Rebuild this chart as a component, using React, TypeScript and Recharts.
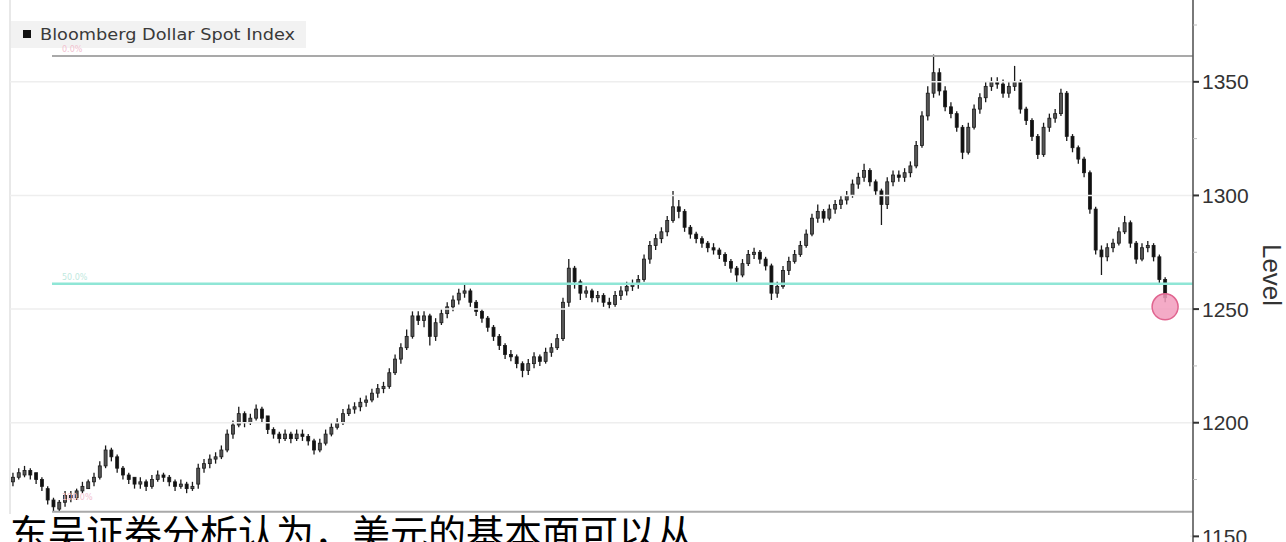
import React from 'react';
import { ComposedChart, Bar, XAxis, YAxis, CartesianGrid, ReferenceLine, ReferenceDot } from 'recharts';

const opens = [
  1174,1176,1177,1179,1178,1175,1171,1166,1162,1165,
  1168,1167,1170,1171,1174,1176,1181,1188,1185,1180,
  1177,1176,1173,1174,1172,1175,1177,1176,1174,1172,
  1173,1171,1173,1180,1182,1184,1185,1188,1195,1199,
  1204,1200,1202,1206,1203,1197,1195,1193,1195,1193,
  1195,1194,1192,1188,1191,1195,1198,1200,1204,1206,
  1207,1209,1210,1213,1215,1216,1222,1228,1233,1238,
  1247,1245,1247,1238,1244,1248,1251,1254,1257,1258,
  1253,1249,1246,1242,1238,1234,1230,1229,1226,1223,
  1226,1229,1227,1231,1233,1237,1253,1268,1262,1257,
  1258,1255,1256,1253,1252,1256,1258,1260,1261,1263,
  1272,1278,1281,1284,1289,1295,1293,1286,1283,1281,
  1279,1277,1276,1274,1271,1268,1265,1270,1274,1275,
  1272,1269,1257,1260,1267,1271,1274,1278,1283,1290,
  1293,1290,1294,1296,1298,1300,1305,1308,1311,1306,
  1302,1296,1306,1309,1308,1310,1313,1322,1335,1345,
  1354,1346,1339,1336,1330,1319,1330,1338,1343,1348,
  1350,1349,1345,1348,1350,1338,1333,1326,1318,1330,
  1334,1336,1345,1326,1321,1316,1310,1294,1276,1273,
  1277,1279,1284,1288,1279,1272,1277,1278,1273,1263,
];
const highs = [
  1178,1180,1181,1180,1178,1176,1172,1167,1166,1170,
  1170,1171,1174,1175,1178,1183,1190,1189,1186,1181,
  1178,1176,1176,1175,1177,1179,1178,1177,1175,1175,
  1174,1174,1182,1184,1186,1187,1190,1197,1201,1207,
  1205,1204,1208,1207,1203,1198,1196,1197,1196,1197,
  1197,1195,1193,1193,1197,1200,1202,1206,1208,1209,
  1211,1212,1215,1217,1218,1224,1230,1235,1241,1249,
  1249,1249,1248,1246,1250,1253,1256,1259,1261,1259,
  1254,1250,1247,1243,1239,1235,1232,1230,1227,1228,
  1231,1230,1233,1235,1239,1255,1272,1269,1263,1260,
  1259,1258,1257,1255,1258,1260,1262,1263,1265,1274,
  1280,1283,1286,1291,1302,1298,1294,1287,1284,1282,
  1280,1279,1277,1275,1272,1269,1272,1276,1277,1276,
  1273,1270,1262,1269,1273,1276,1280,1285,1292,1296,
  1294,1296,1298,1300,1302,1307,1310,1314,1312,1307,
  1303,1308,1311,1311,1312,1315,1324,1337,1348,1362,
  1356,1348,1341,1337,1331,1332,1340,1345,1350,1352,
  1352,1351,1350,1357,1351,1339,1334,1327,1332,1336,
  1338,1347,1346,1327,1322,1317,1311,1295,1278,1279,
  1281,1286,1291,1289,1280,1279,1280,1279,1274,1264,
];
const lows = [
  1172,1175,1176,1175,1173,1170,1164,1161,1161,1163,
  1165,1166,1169,1171,1172,1175,1180,1183,1178,1175,
  1173,1171,1171,1170,1171,1174,1174,1172,1170,1171,
  1169,1170,1171,1178,1180,1182,1184,1187,1193,1198,
  1198,1199,1201,1200,1195,1193,1191,1192,1191,1192,
  1192,1190,1186,1187,1190,1194,1197,1199,1203,1204,
  1205,1207,1209,1211,1213,1215,1221,1226,1232,1237,
  1243,1242,1234,1236,1243,1246,1249,1252,1255,1251,
  1247,1244,1240,1236,1232,1228,1227,1224,1220,1221,
  1224,1225,1226,1229,1232,1236,1251,1259,1254,1255,
  1253,1253,1251,1250,1251,1254,1256,1258,1259,1262,
  1270,1276,1279,1282,1288,1290,1284,1281,1279,1277,
  1275,1274,1272,1269,1266,1262,1264,1269,1272,1270,
  1267,1254,1255,1259,1265,1270,1273,1277,1282,1288,
  1288,1289,1292,1294,1296,1299,1303,1306,1304,1300,
  1287,1294,1304,1306,1306,1308,1312,1321,1333,1343,
  1344,1337,1334,1328,1316,1318,1329,1336,1341,1346,
  1347,1343,1343,1346,1336,1331,1324,1316,1317,1328,
  1332,1335,1324,1319,1314,1308,1292,1274,1265,1271,
  1275,1278,1283,1277,1270,1271,1275,1271,1261,1253,
];
const closes = [
  1176,1178,1179,1177,1175,1172,1166,1163,1165,1168,
  1167,1170,1172,1174,1176,1181,1188,1185,1180,1177,
  1175,1173,1174,1172,1175,1177,1176,1174,1172,1173,
  1171,1172,1180,1182,1184,1185,1188,1195,1199,1204,
  1200,1202,1206,1202,1197,1195,1193,1195,1193,1195,
  1194,1192,1188,1191,1195,1198,1200,1204,1206,1207,
  1209,1210,1213,1215,1216,1222,1228,1233,1238,1247,
  1245,1247,1238,1244,1248,1251,1254,1257,1258,1253,
  1249,1246,1242,1238,1234,1230,1229,1226,1223,1226,
  1229,1227,1231,1233,1237,1253,1268,1262,1257,1258,
  1255,1256,1253,1252,1256,1258,1260,1261,1263,1272,
  1278,1281,1284,1289,1295,1293,1286,1283,1281,1279,
  1277,1276,1274,1271,1268,1265,1270,1274,1275,1272,
  1269,1257,1260,1267,1271,1274,1278,1283,1290,1293,
  1290,1294,1296,1298,1300,1305,1308,1311,1306,1302,
  1296,1306,1309,1308,1310,1313,1322,1335,1345,1354,
  1346,1339,1336,1330,1319,1330,1338,1343,1348,1350,
  1349,1345,1348,1350,1338,1333,1326,1318,1330,1334,
  1336,1345,1326,1321,1316,1310,1294,1276,1273,1277,
  1279,1284,1288,1279,1272,1277,1278,1273,1263,1255,
];

const majorTicks = [1150, 1200, 1250, 1300, 1350];
const minorTicks = [1175, 1225, 1275, 1325, 1375];
const gridCandles = [16, 34, 52, 70, 88, 106, 124, 142, 160, 178, 196];
const fibLabels = ['0.0%', '50.0%', '100.0%'];
const fibValues = [1361.4, 1261.1, 1160.8];
const fibLineColors = ['#a9a9a9', '#8fe6d6', '#a9a9a9'];
const fibLabelColors = ['#f2c2d0', '#bfe9e0', '#f2c2d0'];
const fibLabelRaise = [4, 4, 12];
const lastValue = 1251;
const seriesName = 'Bloomberg Dollar Spot Index';
const axisTitle = 'Level';
const caption = '东吴证券分析认为，美元的基本面可以从';

const data = closes.map((c, i) => ({
  i,
  open: opens[i],
  high: highs[i],
  low: lows[i],
  close: c,
  range: [lows[i], highs[i]],
}));

const Candle = (props: any) => {
  const { x, y, width, height, payload } = props;
  if (!payload || height == null) return null;
  const { open, close, high, low } = payload;
  const top = Math.min(y, y + height);
  const h = Math.abs(height);
  const ppu = h / (high - low || 1);
  const bTop = top + (high - Math.max(open, close)) * ppu;
  const bBot = top + (high - Math.min(open, close)) * ppu;
  const cx = x + width / 2;
  const up = close >= open;
  return (
    <g>
      <line x1={cx} x2={cx} y1={top} y2={top + h} stroke="#1a1a1a" strokeWidth={1.3} />
      <rect
        x={x}
        y={bTop}
        width={width}
        height={Math.max(1.5, bBot - bTop)}
        fill={up ? '#555' : '#111'}
        stroke="#1a1a1a"
        strokeWidth={0.8}
      />
    </g>
  );
};

const YTick = (props: any) => {
  const { x, y, payload } = props;
  const v = payload.value;
  const major = majorTicks.includes(v);
  return (
    <g>
      <line x1={x} x2={x + (major ? 6 : 4)} y1={y} y2={y} stroke={major ? '#333' : '#bbb'} strokeWidth={major ? 2 : 1} />
      {major && (
        <text x={x + 9} y={y} dy="0.36em" fontSize={21} fill="#333" fontFamily="'Liberation Sans', Arial, sans-serif">
          {v}
        </text>
      )}
    </g>
  );
};

const fibShape = (idx: number) => (p: any) => {
  const a = p.x1 ?? 0;
  const b = p.x2 ?? 0;
  const left = Math.min(a, b) + 42;
  const right = Math.max(a, b);
  const y = p.y1 ?? 0;
  return (
    <g>
      <line x1={left} x2={right} y1={y} y2={y} stroke={fibLineColors[idx]} strokeWidth={idx === 1 ? 2.5 : 2} />
      <text x={left + 10} y={y - fibLabelRaise[idx]} fontSize={8} fill={fibLabelColors[idx]} fontFamily="'DejaVu Sans', sans-serif">
        {fibLabels[idx]}
      </text>
    </g>
  );
};

export default function App() {
  const allTicks = [...majorTicks, ...minorTicks].sort((a, b) => a - b);
  return (
    <div style={{ position: 'fixed', left: 0, top: 0, width: 1286, height: 542, overflow: 'hidden', background: '#fff' }}>
      <svg width={1286} height={542} style={{ position: 'absolute', left: 0, top: 0 }}>
        <rect x={10} y={21} width={296} height={27} fill="#f2f2f2" />
      </svg>
      <div style={{ position: 'absolute', left: 0, top: 0 }}>
        <ComposedChart width={1286} height={600} data={data} margin={{ top: 0, right: 0, bottom: 0, left: 10 }} barCategoryGap="25%">
          <CartesianGrid horizontal={false} vertical={true} stroke="#e8e8e8" strokeWidth={2} />
          <XAxis
            dataKey="i"
            type="category"
            ticks={gridCandles}
            interval={0}
            height={0}
            tick={false}
            axisLine={false}
            tickLine={false}
            padding={{ left: 0, right: 25 }}
          />
          <YAxis
            orientation="right"
            type="number"
            domain={[1122, 1386]}
            allowDataOverflow
            ticks={allTicks}
            interval={0}
            width={93}
            tickSize={0}
            tickMargin={0}
            tickLine={false}
            axisLine={{ stroke: '#555', strokeWidth: 1.5 }}
            tick={<YTick />}
          />
          {majorTicks.map((v) => (
            <ReferenceLine key={'g' + v} y={v} stroke="#eeeeee" strokeWidth={1.5} />
          ))}
          {fibValues.map((v, idx) => (
            <ReferenceLine key={'f' + idx} y={v} shape={fibShape(idx)} />
          ))}
          <ReferenceDot x={data.length - 1} y={lastValue} r={13} fill="#f29cbd" fillOpacity={0.85} stroke="#e0648f" strokeWidth={1.5} />
          <Bar dataKey="range" shape={<Candle />} isAnimationActive={false} />
        </ComposedChart>
      </div>
      <svg width={1286} height={542} style={{ position: 'absolute', left: 0, top: 0 }}>
        <rect x={23} y={30} width={8} height={8} fill="#111" />
        <text x={40} y={40} fontSize={15} fill="#3a3a3a" textLength={255} lengthAdjust="spacingAndGlyphs" fontFamily="'DejaVu Sans', sans-serif">
          {seriesName}
        </text>
        <text
          x={1272}
          y={275}
          fontSize={26}
          fill="#333"
          textAnchor="middle"
          dominantBaseline="central"
          transform="rotate(90 1272 275)"
          fontFamily="'Liberation Sans', Arial, sans-serif"
        >
          {axisTitle}
        </text>
        <rect x={0} y={514} width={1190} height={28} fill="#fff" />
        <text x={10} y={547} fontSize={38} fill="#000" fontFamily="'Noto Sans CJK SC', sans-serif">
          {caption}
        </text>
      </svg>
    </div>
  );
}
